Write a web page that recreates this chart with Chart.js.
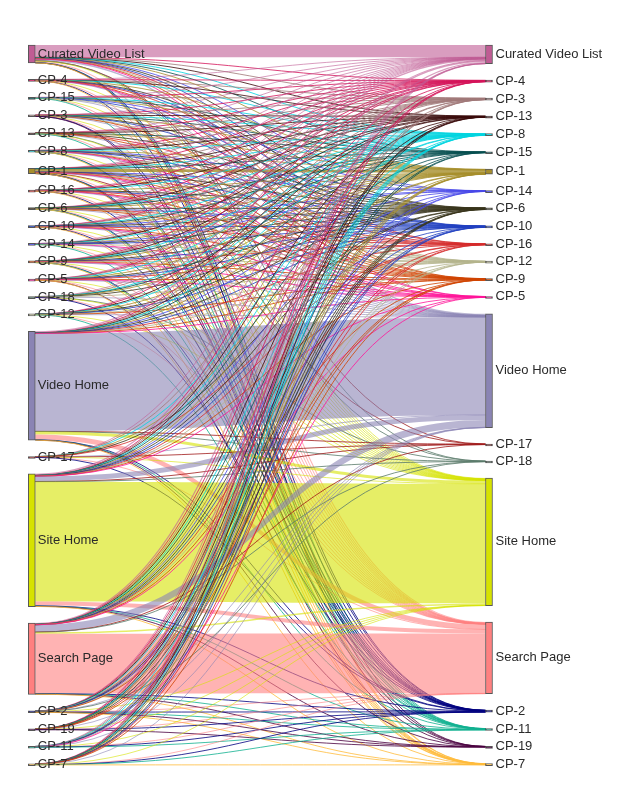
<!DOCTYPE html>
<html>
<head>
<meta charset="utf-8">
<script src="https://cdn.jsdelivr.net/npm/chart.js@4/dist/chart.umd.min.js"></script>
<style>
  html, body { margin: 0; padding: 0; background: #fff; }
  #wrap { width: 629px; height: 809px; position: relative; }
</style>
</head>
<body>
<div id="wrap"><canvas id="sankey"></canvas></div>
<script>
"use strict";

// source pages (left column, top to bottom)
var leftNodes = ["Curated Video List", "CP-4", "CP-15", "CP-3", "CP-13", "CP-8", "CP-1", "CP-16",
  "CP-6", "CP-10", "CP-14", "CP-9", "CP-5", "CP-18", "CP-12", "Video Home", "CP-17",
  "Site Home", "Search Page", "CP-2", "CP-19", "CP-11", "CP-7"];

// target pages (right column, top to bottom)
var rightNodes = ["Curated Video List", "CP-4", "CP-3", "CP-13", "CP-8", "CP-15", "CP-1", "CP-14",
  "CP-6", "CP-10", "CP-16", "CP-12", "CP-9", "CP-5", "Video Home", "CP-17", "CP-18",
  "Site Home", "Search Page", "CP-2", "CP-11", "CP-19", "CP-7"];

// one row per left node, one column per right node
var flows = [
  [240, 4, 3, 2, 4, 2, 8, 2, 3, 3, 2, 2, 3, 2, 30, 1, 1, 14, 20, 4, 2, 1, 2],
  [3, 8, 1, 1, 1, 0, 2, 0, 1, 1, 1, 0, 1, 1, 3, 0, 0, 3, 2, 1, 0, 0, 1],
  [2, 1, 1, 0, 1, 5, 1, 1, 0, 1, 0, 1, 0, 0, 2, 0, 0, 2, 2, 0, 1, 0, 0],
  [3, 1, 8, 1, 1, 1, 2, 0, 1, 1, 0, 1, 1, 0, 3, 0, 0, 3, 2, 1, 0, 1, 0],
  [2, 1, 1, 6, 0, 1, 1, 0, 1, 0, 1, 0, 1, 0, 2, 0, 1, 2, 1, 0, 1, 0, 0],
  [3, 1, 1, 1, 8, 0, 2, 1, 1, 1, 0, 1, 1, 1, 3, 0, 0, 3, 2, 1, 1, 0, 1],
  [6, 2, 2, 1, 2, 1, 60, 1, 2, 2, 1, 1, 2, 1, 6, 1, 0, 6, 4, 2, 1, 1, 1],
  [2, 1, 0, 1, 1, 0, 1, 0, 1, 1, 5, 0, 1, 1, 2, 0, 0, 2, 2, 1, 0, 0, 1],
  [3, 1, 1, 1, 1, 1, 2, 0, 8, 1, 1, 1, 1, 0, 3, 0, 0, 3, 2, 1, 1, 0, 1],
  [2, 1, 1, 0, 1, 1, 1, 1, 1, 7, 1, 0, 1, 1, 2, 0, 0, 2, 2, 1, 0, 0, 1],
  [2, 0, 1, 1, 1, 0, 1, 5, 1, 1, 0, 1, 0, 1, 2, 0, 0, 2, 2, 0, 1, 0, 0],
  [3, 1, 1, 1, 1, 1, 2, 0, 1, 1, 1, 1, 8, 1, 3, 0, 0, 3, 2, 1, 1, 0, 1],
  [2, 1, 1, 0, 1, 0, 1, 0, 1, 1, 1, 0, 1, 5, 2, 0, 0, 2, 1, 0, 0, 1, 1],
  [2, 0, 1, 0, 1, 1, 1, 0, 1, 0, 0, 1, 0, 0, 2, 0, 4, 2, 1, 1, 0, 0, 0],
  [2, 1, 0, 1, 1, 0, 1, 0, 1, 1, 0, 5, 1, 0, 2, 0, 0, 2, 2, 0, 1, 0, 0],
  [30, 1, 1, 1, 1, 1, 3, 1, 1, 1, 1, 1, 1, 1, 1930, 2, 1, 60, 100, 4, 3, 2, 2],
  [1, 0, 1, 0, 1, 0, 1, 0, 1, 0, 1, 0, 0, 0, 2, 4, 0, 2, 1, 1, 0, 0, 0],
  [30, 2, 2, 1, 2, 1, 4, 1, 2, 2, 1, 1, 2, 1, 100, 3, 3, 2366, 80, 6, 5, 3, 5],
  [24, 1, 1, 1, 1, 1, 3, 1, 1, 1, 1, 1, 1, 1, 140, 2, 2, 30, 1180, 6, 4, 3, 4],
  [3, 1, 1, 1, 1, 0, 2, 1, 1, 1, 0, 1, 1, 0, 3, 0, 1, 3, 2, 6, 1, 1, 1],
  [2, 1, 0, 1, 1, 1, 1, 0, 1, 0, 1, 0, 1, 0, 2, 0, 0, 2, 2, 1, 0, 4, 0],
  [2, 0, 1, 0, 1, 0, 1, 1, 1, 1, 0, 1, 0, 1, 2, 0, 0, 2, 2, 1, 5, 0, 0],
  [2, 1, 1, 1, 1, 1, 1, 0, 1, 1, 1, 0, 1, 0, 2, 0, 0, 2, 2, 1, 1, 0, 5]
];

// base colour of every page [r, g, b]
var pageColors = {
  "Curated Video List": [192, 92, 148],
  "Video Home": [138, 132, 180],
  "Site Home": [214, 226, 0],
  "Search Page": [255, 128, 128],
  "CP-4": [212, 20, 90],
  "CP-3": [160, 120, 120],
  "CP-13": [58, 10, 10],
  "CP-8": [0, 212, 224],
  "CP-15": [6, 79, 80],
  "CP-1": [166, 142, 44],
  "CP-14": [72, 72, 232],
  "CP-6": [56, 52, 28],
  "CP-10": [32, 64, 192],
  "CP-16": [212, 42, 42],
  "CP-12": [180, 180, 140],
  "CP-9": [208, 68, 0],
  "CP-5": [255, 20, 153],
  "CP-17": [160, 28, 28],
  "CP-18": [90, 122, 106],
  "CP-2": [0, 0, 128],
  "CP-11": [16, 176, 144],
  "CP-19": [74, 0, 64],
  "CP-7": [255, 188, 60]
};

var bigPages = ["Curated Video List", "Video Home", "Site Home", "Search Page"];

var NODE_WIDTH = 7;
var PAD_RATIO = 0.0456;

function rgba(c, a) {
  return "rgba(" + c[0] + "," + c[1] + "," + c[2] + "," + a + ")";
}

function sum(arr) {
  var s = 0;
  arr.forEach(function(v) { s += v; });
  return s;
}

var leftTotals = flows.map(sum);
var rightTotals = rightNodes.map(function(name, j) {
  return sum(flows.map(function(row) { return row[j]; }));
});
var grandTotal = sum(leftTotals);
var nodePad = grandTotal * PAD_RATIO;
var span = grandTotal + (leftNodes.length - 1) * nodePad;

function _stack(totals) {
  var y = 0;
  return totals.map(function(v) {
    var p = [y, y + v];
    y += v + nodePad;
    return p;
  });
}

var leftPos = _stack(leftTotals);
var rightPos = _stack(rightTotals);

function _nodeColor(name) {
  return rgba(pageColors[name], 1);
}

function _linkColor(name) {
  if (bigPages.indexOf(name) >= 0) {
    return rgba(pageColors[name], 0.6);
  }
  return rgba(pageColors[name], 0.8);
}

var barData = [];
var barColors = [];
leftNodes.forEach(function(name, i) {
  barData.push({ x: 0, y: leftPos[i] });
  barColors.push(_nodeColor(name));
});
rightNodes.forEach(function(name, j) {
  barData.push({ x: 1, y: rightPos[j] });
  barColors.push(_nodeColor(name));
});

var sankeyLinks = {
  id: "sankeyLinks",
  beforeDatasetsDraw: function(chart) {
    var ctx = chart.ctx;
    var xs = chart.scales.x;
    var ys = chart.scales.y;
    var x0 = xs.getPixelForValue(0) + NODE_WIDTH / 2;
    var x1 = xs.getPixelForValue(1) - NODE_WIDTH / 2;
    var xm = (x0 + x1) / 2;
    var inOffset = rightPos.map(function(p) { return p[0]; });

    ctx.save();
    flows.forEach(function(row, i) {
      var outOffset = leftPos[i][0];
      row.forEach(function(v, j) {
        if (!v) return;
        var s0 = ys.getPixelForValue(outOffset);
        var s1 = ys.getPixelForValue(outOffset + v);
        var t0 = ys.getPixelForValue(inOffset[j]);
        var t1 = ys.getPixelForValue(inOffset[j] + v);
        outOffset += v;
        inOffset[j] += v;
        var w = s1 - s0;
        var color = _linkColor(rightNodes[j]);
        if (w >= 1.5) {
          ctx.beginPath();
          ctx.moveTo(x0, s0);
          ctx.bezierCurveTo(xm, s0, xm, t0, x1, t0);
          ctx.lineTo(x1, t1);
          ctx.bezierCurveTo(xm, t1, xm, s1, x0, s1);
          ctx.closePath();
          ctx.fillStyle = color;
          ctx.fill();
        } else {
          var sc = (s0 + s1) / 2;
          var tc = (t0 + t1) / 2;
          ctx.beginPath();
          ctx.moveTo(x0, sc);
          ctx.bezierCurveTo(xm, sc, xm, tc, x1, tc);
          ctx.lineWidth = Math.max(w, 1);
          ctx.strokeStyle = color;
          ctx.stroke();
        }
      });
    });
    ctx.restore();
  }
};

var sankeyLabels = {
  id: "sankeyLabels",
  afterDatasetsDraw: function(chart) {
    var ctx = chart.ctx;
    var xs = chart.scales.x;
    var ys = chart.scales.y;
    ctx.save();
    ctx.font = '13px "Liberation Sans", Arial, sans-serif';
    ctx.fillStyle = "#2a2a2a";
    ctx.textBaseline = "middle";
    ctx.textAlign = "left";
    leftNodes.forEach(function(name, i) {
      var y = ys.getPixelForValue((leftPos[i][0] + leftPos[i][1]) / 2);
      ctx.fillText(name, xs.getPixelForValue(0) + NODE_WIDTH / 2 + 2.5, y);
    });
    rightNodes.forEach(function(name, j) {
      var y = ys.getPixelForValue((rightPos[j][0] + rightPos[j][1]) / 2);
      ctx.fillText(name, xs.getPixelForValue(1) + NODE_WIDTH / 2 + 3, y);
    });
    ctx.restore();
  }
};

new Chart(document.getElementById("sankey"), {
  type: "bar",
  data: {
    datasets: [{
      data: barData,
      backgroundColor: barColors,
      borderColor: "rgba(68,68,68,0.9)",
      borderWidth: 1,
      borderSkipped: false,
      barThickness: NODE_WIDTH,
      minBarLength: 2,
      clip: false
    }]
  },
  options: {
    animation: false,
    responsive: true,
    maintainAspectRatio: false,
    layout: {
      padding: { left: 31.8, right: 140, top: 45, bottom: 44 }
    },
    plugins: {
      legend: { display: false },
      tooltip: { enabled: false }
    },
    scales: {
      x: { type: "linear", min: 0, max: 1, offset: false, display: false },
      y: { min: 0, max: span, reverse: true, display: false }
    }
  },
  plugins: [sankeyLinks, sankeyLabels]
});
</script>
</body>
</html>
